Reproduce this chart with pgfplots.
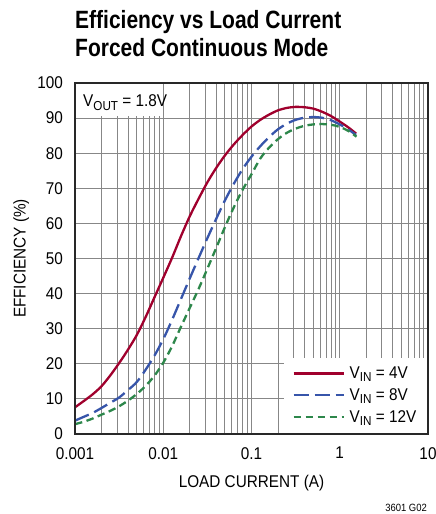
\documentclass[border=0pt]{standalone}
\usepackage{fontspec}
\setmainfont{Liberation Sans}[FakeStretch=0.9]
\newfontfamily\titlefont{Liberation Sans}[FakeStretch=0.84]
\usepackage{pgfplots}
\pgfplotsset{compat=1.18}
\definecolor{cred}{RGB}{160,0,45}
\definecolor{cblue}{RGB}{55,85,170}
\definecolor{cgreen}{RGB}{45,135,75}
\definecolor{cgrid}{RGB}{135,135,135}
\definecolor{cframe}{RGB}{40,40,40}
\newcommand\lbl{\fontsize{17}{17}\selectfont}
\newcommand\sub[1]{\raisebox{-0.35ex}{\fontsize{13}{13}\selectfont #1}}
\begin{document}
\begin{tikzpicture}
\useasboundingbox (-75pt,-80pt) rectangle (361pt,434pt);
\node[anchor=base west, inner sep=0pt, font=\titlefont\bfseries\fontsize{25}{25}\selectfont] at (0pt,405.7pt) {Efficiency vs Load Current};
\node[anchor=base west, inner sep=0pt, font=\titlefont\bfseries\fontsize{25}{25}\selectfont] at (0pt,377pt) {Forced Continuous Mode};
\begin{axis}[
  at={(0pt,0pt)}, anchor=south west,
  scale only axis, width=353pt, height=351pt,
  xmode=log, xmin=0.001, xmax=10, ymin=0, ymax=100,
  xtick={0.001,0.01,0.1,1,10}, xticklabels={0.001,0.01,0.1,1,10},
  minor xtick={0.002,0.003,0.004,0.005,0.006,0.007,0.008,0.009,0.02,0.03,0.04,0.05,0.06,0.07,0.08,0.09,0.2,0.3,0.4,0.5,0.6,0.7,0.8,0.9,2,3,4,5,6,7,8,9},
  ytick={0,10,20,30,40,50,60,70,80,90,100},
  xmajorgrids, xminorgrids, ymajorgrids,
  major grid style={cgrid, line width=1pt},
  minor grid style={cgrid, line width=1pt},
  major tick length=0pt, minor tick length=0pt,
  axis line style={line width=1.3pt, cframe},
  tick label style={font=\lbl},
  /pgf/number format/assume math mode=true,
  xticklabel style={inner sep=0pt, anchor=north, yshift=-13pt},
  yticklabel style={inner sep=0pt, anchor=east, xshift=-12pt},
  xlabel={LOAD CURRENT (A)},
  ylabel={EFFICIENCY (\%)},
  label style={font=\lbl},
  xlabel style={at={(axis description cs:0.5,-0.151)}, anchor=base, inner sep=0pt},
  ylabel style={at={(axis description cs:-0.152,0.5)}, anchor=center, inner sep=0pt},
  legend style={at={(0.997,0.003)}, anchor=south east, draw=none, fill=white,
    font=\lbl, inner xsep=8.5pt, inner ysep=7pt, row sep=4.5pt},
  legend cell align=left,
  legend image code/.code={\draw[#1] (0pt,0pt) -- (50pt,0pt);},
]
\fill[white] ([xshift=0.7pt,yshift=-0.7pt]rel axis cs:0,1) rectangle (axis cs:0.0098,90.6);
\node[anchor=base west, inner sep=0pt, font=\lbl] at ([xshift=8pt]axis cs:0.001,93.2) {V\sub{OUT} = 1.8V};
\addplot[cred, line width=2.3pt, smooth] coordinates {
(0.001,7.6) (0.001259,9.4) (0.001585,11.3) (0.001995,13.6) (0.002512,16.7) (0.003162,20.2) (0.003981,24) (0.005012,28.2) (0.00631,33.3) (0.007943,38.9) (0.01,44.5) (0.01259,50.2) (0.01585,56.3) (0.01995,62) (0.02512,67) (0.03162,71.7) (0.03981,75.8) (0.05012,79.4) (0.0631,82.5) (0.07943,85.2) (0.1,87.6) (0.1259,89.5) (0.1585,91) (0.1995,92.2) (0.2512,92.9) (0.3162,93.2) (0.3981,93.1) (0.5012,92.7) (0.631,91.8) (0.7943,90.6) (1.0,89) (1.259,87.3) (1.531,85.6)};
\addlegendentry{\hspace{3pt}V\sub{IN} = 4V\hspace{7pt}}
\addplot[cblue, line width=2.3pt, smooth, dash pattern=on 15pt off 6pt] coordinates {
(0.001,3.8) (0.001259,4.9) (0.001585,6.0) (0.001995,7.4) (0.002512,8.9) (0.003162,10.4) (0.003981,12.5) (0.005012,14.8) (0.00631,18.3) (0.007943,22.3) (0.01,27) (0.01259,32.5) (0.01585,38.4) (0.01995,44.3) (0.02512,50.1) (0.03162,55.8) (0.03981,61.3) (0.05012,66.6) (0.0631,71.3) (0.07943,75.5) (0.1,79) (0.1259,82) (0.1585,84.6) (0.1995,86.8) (0.2512,88.4) (0.3162,89.5) (0.3981,90.1) (0.5012,90.3) (0.631,90.1) (0.7943,89.4) (1.0,88.2) (1.259,86.7) (1.531,85.2)};
\addlegendentry{\hspace{3pt}V\sub{IN} = 8V\hspace{7pt}}
\addplot[cgreen, line width=2.3pt, smooth, dash pattern=on 7.5pt off 4.5pt] coordinates {
(0.001,2.8) (0.001259,3.5) (0.001585,4.4) (0.001995,5.5) (0.002512,6.6) (0.003162,7.9) (0.003981,9.5) (0.005012,11.4) (0.00631,13.7) (0.007943,16.6) (0.01,20.3) (0.01259,25) (0.01585,30.5) (0.01995,35.9) (0.02512,41.3) (0.03162,47.1) (0.03981,53) (0.05012,59) (0.0631,64.6) (0.07943,69.6) (0.1,74) (0.1259,78.5) (0.1585,81.6) (0.1995,84) (0.2512,85.8) (0.3162,87) (0.3981,87.8) (0.5012,88.2) (0.631,88.3) (0.7943,88.1) (1.0,87.5) (1.259,86.3) (1.549,84.7)};
\addlegendentry{\hspace{3pt}V\sub{IN} = 12V\hspace{7pt}}
\draw[line width=1.3pt, cframe] (rel axis cs:0,0) rectangle (rel axis cs:1,1);
\end{axis}
\node[anchor=base east, inner sep=0pt, font=\fontsize{10.5}{10.5}\selectfont] at (352pt,-77pt) {3601 G02};
\end{tikzpicture}
\end{document}
